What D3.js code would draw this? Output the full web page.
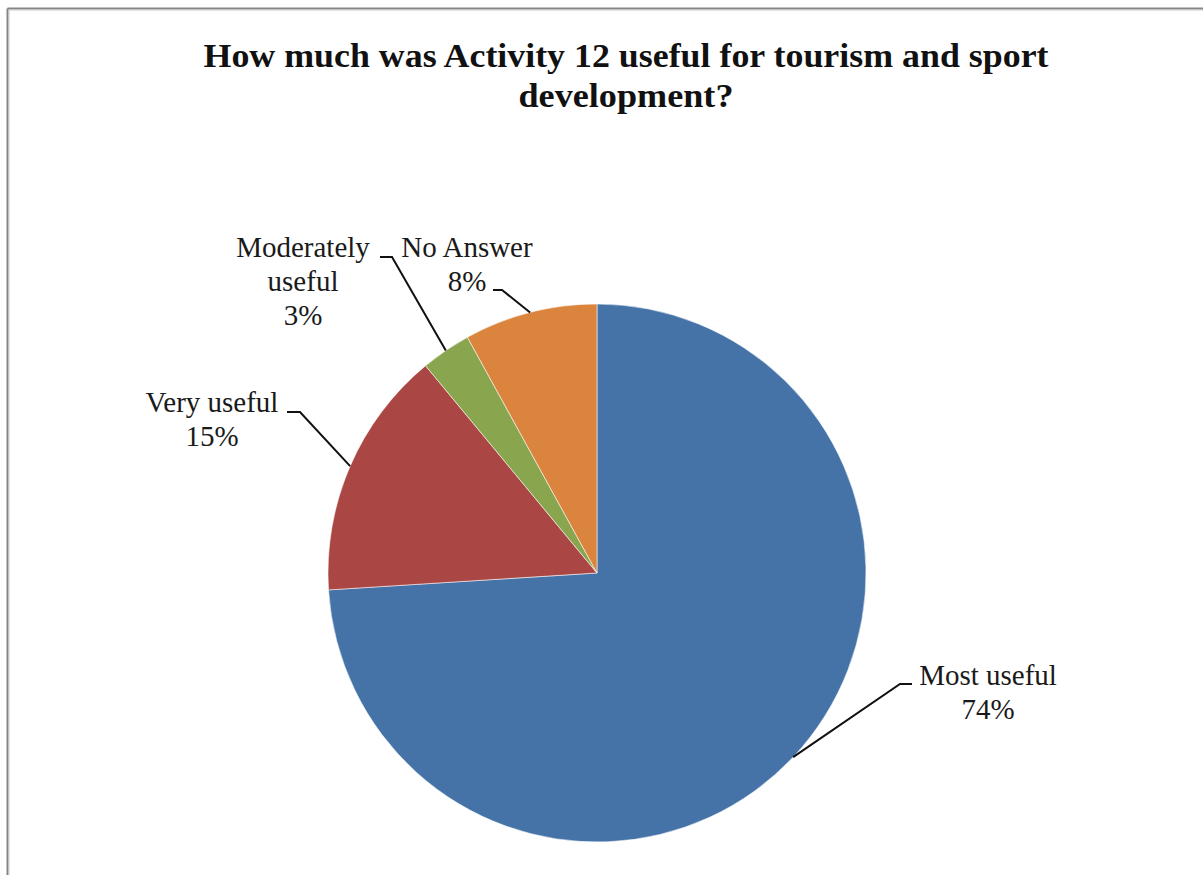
<!DOCTYPE html>
<html>
<head>
<meta charset="utf-8">
<script src="https://cdn.jsdelivr.net/npm/d3@7"></script>
<style>
  html, body { margin: 0; padding: 0; background: #fff; }
  svg { display: block; }
</style>
</head>
<body>
<svg id="chart" width="1203" height="875"></svg>
<script>
// Survey answers, in drawing order (clockwise from 12 o'clock)
const categories = ["Most useful", "Very useful", "Moderately useful", "No Answer"];
const percents = [74, 15, 3, 8];
const sliceColors = ["#4572A7", "#AA4643", "#89A54E", "#DB843D"];
const titleLines = ["How much was Activity 12 useful for tourism and sport", "development?"];

// Label text blocks: each line of text, centre x, first baseline, and the end of the leader stub
const labelLines = [
  ["Most useful", "74%"],
  ["Very useful", "15%"],
  ["Moderately", "useful", "3%"],
  ["No Answer", "8%"]
];
const labelPlacement = [
  { x: 988, y: 685, stub: [[900, 684], [912, 684]] },
  { x: 212, y: 412, stub: [[300, 412], [287, 412]] },
  { x: 303, y: 257, stub: [[392, 257], [380, 257]] },
  { x: 467, y: 257, stub: [[502, 290], [493, 290]] }
];

const svg = d3.select("#chart");
const W = 1203, H = 875;
const cx = 597, cy = 573, radius = 269;
const serif = "'Times New Roman', 'Liberation Serif', serif";

// frame lines (top and left)
svg.append("line").attr("x1", 7.5).attr("x2", W).attr("y1", 8.5).attr("y2", 8.5)
  .attr("stroke", "#858585").attr("stroke-width", 2);
svg.append("line").attr("x1", 7.5).attr("x2", 7.5).attr("y1", 8.5).attr("y2", H)
  .attr("stroke", "#858585").attr("stroke-width", 2);
svg.append("line").attr("x1", 9).attr("x2", W).attr("y1", 10.5).attr("y2", 10.5)
  .attr("stroke", "#e4e4e4").attr("stroke-width", 1);
svg.append("line").attr("x1", 9.5).attr("x2", 9.5).attr("y1", 10).attr("y2", H)
  .attr("stroke", "#e4e4e4").attr("stroke-width", 1);

// title
const titleWidths = [845, 215];
const titleBaselines = [67, 107];
svg.append("g").selectAll("text")
  .data(titleLines)
  .join("text")
  .attr("x", 626)
  .attr("y", (d, i) => titleBaselines[i])
  .attr("text-anchor", "middle")
  .attr("font-family", serif)
  .attr("font-weight", "bold")
  .attr("font-size", 34)
  .attr("fill", "#111")
  .attr("textLength", (d, i) => titleWidths[i])
  .attr("lengthAdjust", "spacingAndGlyphs")
  .text(d => d);

// pie
const pie = d3.pie().sort(null).value(d => d.value).startAngle(0).endAngle(2 * Math.PI);
const arcs = pie(categories.map((c, i) => ({ name: c, value: percents[i], idx: i })));
const arcGen = d3.arc().innerRadius(0).outerRadius(radius);
const color = d3.scaleOrdinal().domain(categories).range(sliceColors);

const pieG = svg.append("g").attr("transform", `translate(${cx},${cy})`);
pieG.selectAll("path")
  .data(arcs)
  .join("path")
  .attr("d", arcGen)
  .attr("fill", d => color(d.data.name))
  .attr("stroke", "#ffffff")
  .attr("stroke-opacity", 0.55)
  .attr("stroke-width", 1);

// leader lines: from the slice's outer edge at its mid-angle to the label stub
const leader = d3.line();
svg.append("g").selectAll("path")
  .data(arcs)
  .join("path")
  .attr("d", d => {
    const a = (d.startAngle + d.endAngle) / 2;
    const p0 = [cx + radius * Math.sin(a), cy - radius * Math.cos(a)];
    const s = labelPlacement[d.data.idx].stub;
    return leader([p0, s[0], s[1]]);
  })
  .attr("fill", "none")
  .attr("stroke", "#111")
  .attr("stroke-width", 2);

// slice labels
const lineGap = 34;
const labelG = svg.append("g")
  .attr("font-family", serif)
  .attr("font-size", 29)
  .attr("fill", "#1a1a1a")
  .attr("text-anchor", "middle");
arcs.forEach(d => {
  const p = labelPlacement[d.data.idx];
  const t = labelG.append("text").attr("x", p.x).attr("y", p.y);
  labelLines[d.data.idx].forEach((ln, j) => {
    t.append("tspan").attr("x", p.x).attr("dy", j === 0 ? 0 : lineGap).text(ln);
  });
});
</script>
</body>
</html>
